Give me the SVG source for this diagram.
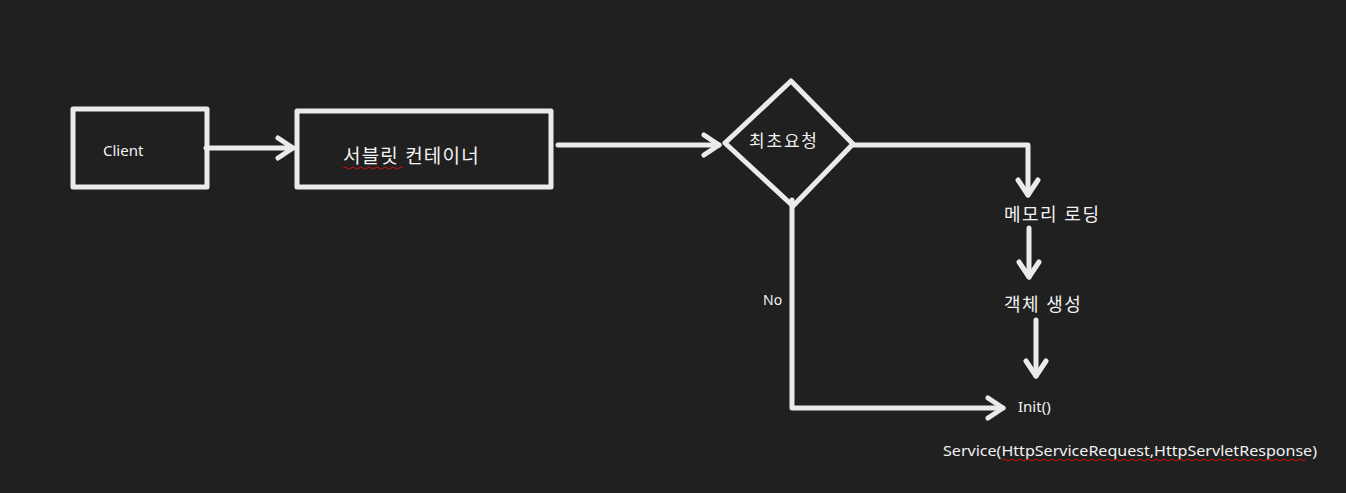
<svg xmlns="http://www.w3.org/2000/svg" width="1346" height="493" viewBox="0 0 1346 493">
<style>
.bg{fill:#212020}
.shape{fill:none;stroke:#ebebe9;stroke-width:5;stroke-linejoin:round;stroke-linecap:round}
.line{fill:none;stroke:#ebebe9;stroke-width:5;stroke-linejoin:round;stroke-linecap:round}
.t{fill:#f2f2f2;font-family:"Noto Sans","Noto Sans CJK KR",sans-serif}
.squig{fill:none;stroke:#d01010;stroke-width:1}
</style>
<defs>
<marker id="chev" markerUnits="userSpaceOnUse" viewBox="-20 -14 24 28" markerWidth="24" markerHeight="28" refX="0" refY="0" orient="auto">
<path d="M-15,-10 L0,0 L-15,10" fill="none" stroke="#ebebe9" stroke-width="5" stroke-linecap="round" stroke-linejoin="round"/>
</marker>
</defs>
<rect class="bg" x="0" y="0" width="1346" height="493"/>
<g id="client">
<rect class="shape" x="73" y="109" width="134" height="78"/>
<text class="t" x="103" y="156" font-size="15">Client</text>
</g>
<g id="container">
<rect class="shape" x="297" y="111" width="254" height="76"/>
<text class="t" x="343" y="163" font-size="19" letter-spacing="1.2">서블릿 컨테이너</text>
<path class="squig" d="M343,168 q2,-2 4,0 t4,0 t4,0 t4,0 t4,0 t4,0 t4,0 t4,0 t4,0 t4,0 t4,0 t4,0 t4,0 t4,0 t4,0"/>
</g>
<g id="decision">
<polygon class="shape" points="791,81 853,144 793,206 725,143"/>
<text class="t" x="749" y="147" font-size="17" letter-spacing="1.8">최초요청</text>
</g>
<g id="memory">
<text class="t" x="1004" y="221" font-size="18" letter-spacing="1.5">메모리 로딩</text>
</g>
<g id="create">
<text class="t" x="1004" y="311" font-size="18" letter-spacing="1.5">객체 생성</text>
</g>
<g id="init">
<text class="t" x="1018" y="412" font-size="15">Init()</text>
</g>
<g id="service">
<text class="t" x="943" y="456" font-size="15" textLength="374" lengthAdjust="spacingAndGlyphs">Service(HttpServiceRequest,HttpServletResponse)</text>
<path class="squig" d="M1002,460 q2,-2 4,0 t4,0 t4,0 t4,0 t4,0 t4,0 t4,0 t4,0 t4,0 t4,0 t4,0 t4,0 t4,0 t4,0 t4,0 t4,0 t4,0 t4,0 t4,0 t4,0 t4,0 t4,0 t4,0 t4,0 t4,0 t4,0 t4,0 t4,0 t4,0 t4,0 t4,0 t4,0 t4,0 t4,0 t4,0 t4,0 t4,0 t4,0 t4,0 t4,0 t4,0 t4,0 t4,0 t4,0 t4,0 t4,0 t4,0 t4,0 t4,0 t4,0 t4,0 t4,0 t4,0 t4,0 t4,0 t4,0 t4,0 t4,0 t4,0 t4,0 t4,0 t4,0 t4,0 t4,0 t4,0 t4,0 t4,0 t4,0 t4,0 t4,0 t4,0 t4,0 t4,0 t4,0 t4,0 t4,0"/>
</g>
<g id="connectors">
<path class="line" d="M206,148 L293,148" marker-end="url(#chev)"/>
<path class="line" d="M558,145 L719,145" marker-end="url(#chev)"/>
<path class="line" d="M854,145 L1028,145 L1028,195" marker-end="url(#chev)"/>
<path class="line" d="M1029,228 L1029,277" marker-end="url(#chev)"/>
<path class="line" d="M1036,320 L1036,376" marker-end="url(#chev)"/>
<path class="line" d="M792,200 L792,408 L1003,408" marker-end="url(#chev)"/>
<text class="t" x="763" y="305" font-size="14">No</text>
</g>
</svg>
